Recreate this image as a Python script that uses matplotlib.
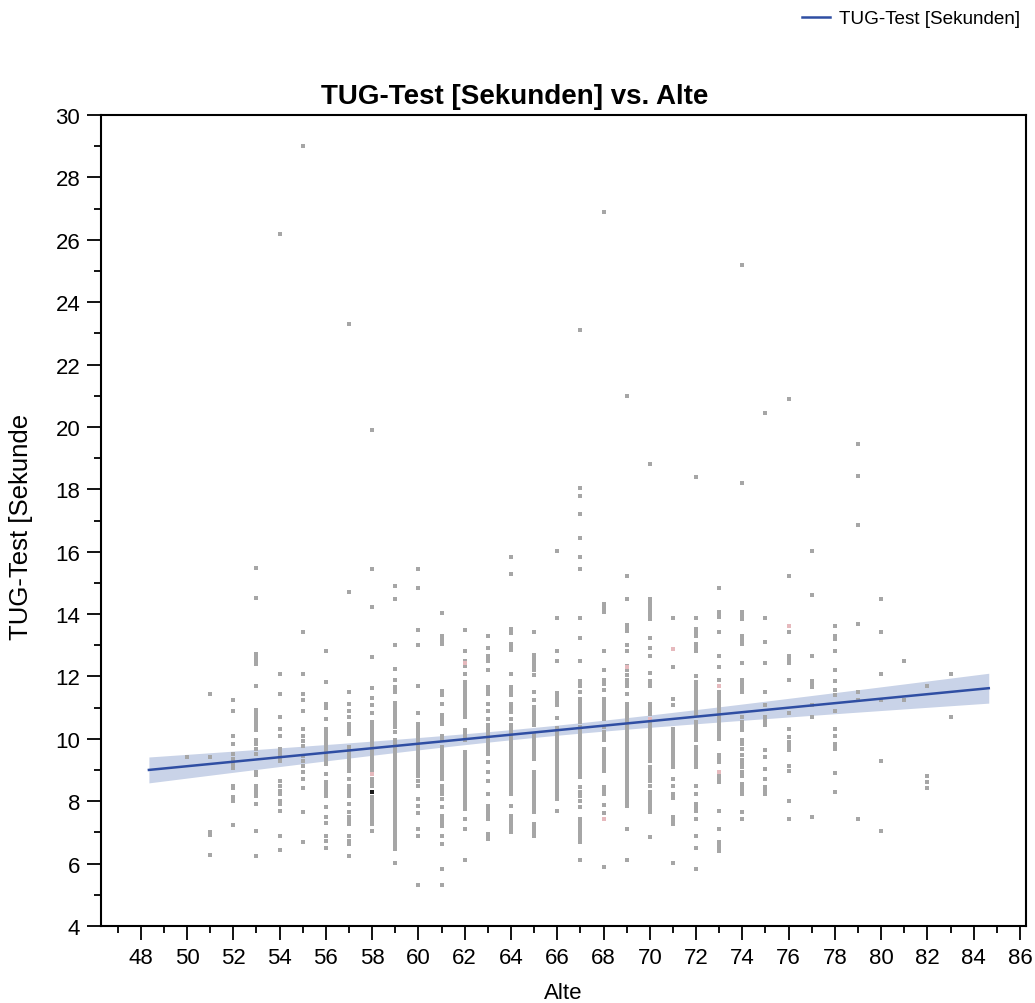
import numpy as np
import matplotlib
matplotlib.use("Agg")
import matplotlib.pyplot as plt
from matplotlib.ticker import MultipleLocator

plt.rcParams['font.family'] = ['Liberation Sans', 'DejaVu Sans']

# TUG-Test values (seconds) per age column
age50 = [9.43]
age51 = [11.43, 9.43, 7.0, 6.92, 6.29]
age52 = [11.23, 10.9, 10.1, 9.83, 9.5, 9.34, 9.2, 9.05, 8.5, 8.42, 8.13, 8.02, 7.23]
age53 = [15.49, 14.5, 12.71, 12.63, 12.5, 12.41, 11.7, 10.93, 10.85, 10.77, 10.68, 10.6, 10.52,
         10.44, 10.35, 10.27, 9.95, 9.82, 9.68, 9.5, 8.93, 8.85, 8.5, 8.42, 8.29, 8.18, 7.9, 7.04, 6.23]
age54 = [26.2, 12.09, 11.43, 10.69, 10.3, 10.1, 9.68, 9.6, 9.5, 9.4, 9.3, 8.64, 8.5, 8.34, 8.22,
         8.02, 7.9, 7.69, 6.9, 6.43]
age55 = [29.0, 13.43, 12.09, 11.43, 11.23, 10.9, 10.3, 10.1, 9.92, 9.78, 9.44, 9.3, 9.14, 8.93,
         8.7, 8.43, 7.67, 6.69]
age56 = [12.83, 11.83, 11.11, 10.98, 10.64, 10.32, 10.22, 10.12, 10.03, 9.94, 9.85, 9.76, 9.66,
         9.57, 9.48, 9.38, 9.29, 9.2, 8.88, 8.61, 8.5, 8.39, 8.29, 8.18, 7.81, 7.51, 7.31, 6.9,
         6.73, 6.5]
age57 = [23.3, 14.7, 11.5, 11.11, 10.9, 10.69, 10.48, 10.37, 10.27, 10.16, 9.73, 9.63, 9.52,
         9.42, 9.3, 9.2, 9.09, 8.98, 8.72, 8.5, 8.4, 8.29, 8.18, 7.9, 7.65, 7.51, 7.38, 7.27,
         6.9, 6.73, 6.63, 6.23]
age58 = [19.9, 15.43, 14.22, 12.63, 11.62, 11.3, 11.09, 10.83, 10.53, 10.45, 10.34, 10.26,
         10.15, 10.08, 9.98, 9.9, 9.82, 9.71, 9.63, 9.55, 9.44, 9.36, 9.28, 9.17, 9.1, 9.0,
         8.92, 8.72, 8.61, 8.5, 8.13, 8.04, 7.92, 7.83, 7.73, 7.6, 7.49, 7.37, 7.27, 7.04]
age59 = [14.89, 14.49, 13.02, 12.23, 11.89, 11.65, 11.57, 11.49, 11.14, 11.03, 10.95, 10.84,
         10.72, 10.6, 10.5, 10.38, 10.21, 9.95, 9.86, 9.77, 9.68, 9.6, 9.5, 9.41, 9.33, 9.22,
         9.14, 9.05, 8.95, 8.86, 8.78, 8.66, 8.58, 8.49, 8.4, 8.3, 8.21, 8.12, 8.03, 7.94, 7.84,
         7.75, 7.66, 7.57, 7.47, 7.38, 7.29, 7.2, 7.1, 7.01, 6.92, 6.84, 6.74, 6.65, 6.56, 6.47,
         6.03]
age60 = [15.43, 14.83, 13.49, 13.02, 11.7, 10.83, 10.48, 10.39, 10.3, 10.2, 10.11, 10.02, 9.93,
         9.84, 9.75, 9.65, 9.56, 9.47, 9.38, 9.29, 9.19, 9.1, 9.01, 8.92, 8.82, 8.66, 8.5, 8.07,
         7.84, 7.63, 7.11, 6.9, 5.3]
age61 = [14.03, 13.31, 13.22, 13.13, 13.04, 11.54, 11.46, 11.39, 11.11, 10.75, 10.66, 10.57,
         10.48, 10.1, 10.0, 9.73, 9.62, 9.51, 9.4, 9.3, 9.2, 9.09, 8.98, 8.88, 8.8, 8.72, 8.5,
         8.42, 8.33, 8.24, 8.07, 7.81, 7.54, 7.43, 7.32, 7.22, 6.9, 6.63, 5.83, 5.3]
age62 = [13.49, 12.83, 12.51, 12.35, 12.08, 11.81, 11.72, 11.63, 11.54, 11.45, 11.35, 11.26,
         11.17, 11.08, 10.98, 10.88, 10.78, 10.69, 10.27, 10.16, 10.05, 9.95, 9.57, 9.48, 9.39,
         9.3, 9.21, 9.12, 9.03, 8.94, 8.85, 8.76, 8.67, 8.58, 8.49, 8.4, 8.31, 8.22, 8.13, 8.04,
         7.94, 7.85, 7.76, 7.43, 7.11, 6.1]
age63 = [13.29, 12.9, 12.67, 12.58, 12.48, 12.22, 11.65, 11.55, 11.44, 11.11, 10.9, 10.64,
         10.43, 10.33, 10.23, 10.13, 10.03, 9.93, 9.83, 9.73, 9.63, 9.52, 9.25, 8.93, 8.66, 8.24,
         7.86, 7.75, 7.64, 7.54, 7.43, 6.95, 6.87, 6.79]
age64 = [15.82, 15.29, 13.52, 13.46, 13.4, 13.04, 12.95, 12.86, 12.09, 11.65, 11.56, 11.47,
         11.39, 11.12, 11.03, 10.94, 10.85, 10.64, 10.43, 10.34, 10.25, 10.16, 10.07, 9.98, 9.89,
         9.8, 9.71, 9.62, 9.53, 9.44, 9.35, 9.26, 9.17, 9.08, 8.99, 8.9, 8.8, 8.7, 8.6, 8.5,
         8.42, 8.33, 8.24, 7.86, 7.54, 7.44, 7.34, 7.22, 7.11, 7.01]
age65 = [13.42, 12.69, 12.6, 12.5, 12.4, 12.3, 12.2, 12.05, 11.49, 11.23, 11.01, 10.9, 10.79,
         10.67, 10.55, 10.43, 10.13, 10.02, 9.91, 9.8, 9.68, 9.58, 9.47, 9.36, 8.93, 8.82, 8.71,
         8.6, 8.49, 8.38, 8.27, 8.16, 8.05, 7.94, 7.83, 7.72, 7.65, 7.27, 7.15, 7.02, 6.9]
age66 = [16.02, 13.89, 12.83, 12.48, 11.47, 11.37, 11.27, 11.17, 11.07, 10.66, 10.34, 10.25,
         10.16, 10.07, 9.98, 9.89, 9.8, 9.71, 9.62, 9.53, 9.44, 9.35, 9.26, 9.17, 9.08, 8.99,
         8.9, 8.81, 8.72, 8.63, 8.54, 8.45, 8.36, 8.27, 8.17, 8.08, 7.7]
age67 = [23.1, 18.05, 17.8, 17.2, 16.43, 15.82, 15.43, 13.89, 13.23, 12.48, 11.87, 11.79,
         11.71, 11.49, 11.28, 11.18, 11.08, 10.98, 10.88, 10.78, 10.68, 10.58, 10.53, 10.37,
         10.27, 10.17, 10.07, 9.97, 9.87, 9.77, 9.67, 9.57, 9.47, 9.37, 9.27, 9.17, 9.07, 8.97,
         8.87, 8.77, 8.45, 8.3, 8.16, 8.02, 7.81, 7.43, 7.32, 7.2, 7.08, 6.95, 6.82, 6.69, 6.1]
age68 = [26.9, 14.32, 14.23, 14.14, 14.06, 12.83, 12.22, 11.9, 11.83, 11.76, 11.55, 11.28,
         11.18, 11.07, 10.96, 10.85, 10.75, 10.64, 10.37, 10.23, 10.09, 9.95, 9.68, 9.55, 9.42,
         9.29, 9.16, 9.03, 8.98, 8.45, 8.35, 8.24, 7.89, 7.63, 5.88]
age69 = [21.0, 15.23, 14.49, 13.65, 13.56, 13.47, 13.02, 12.83, 12.35, 12.2, 12.05, 11.9, 11.8,
         11.71, 11.44, 11.12, 11.02, 10.92, 10.82, 10.72, 10.62, 10.52, 10.42, 10.32, 10.22,
         10.12, 10.02, 9.92, 9.82, 9.72, 9.62, 9.52, 9.42, 9.32, 9.22, 9.12, 9.02, 8.92, 8.82,
         8.72, 8.62, 8.52, 8.42, 8.32, 8.22, 8.12, 8.02, 7.94, 7.86, 7.11, 6.1]
age70 = [18.8, 14.47, 14.38, 14.28, 14.18, 14.08, 13.96, 13.84, 13.23, 12.9, 12.65, 12.11,
         11.87, 11.79, 11.71, 11.12, 11.01, 10.9, 10.8, 10.53, 10.43, 10.33, 10.23, 10.13, 10.03,
         9.93, 9.83, 9.73, 9.63, 9.53, 9.43, 9.3, 9.09, 8.98, 8.87, 8.76, 8.65, 8.5, 8.29, 8.18,
         8.08, 7.97, 7.86, 7.76, 7.65, 6.85]
age71 = [13.89, 12.3, 11.28, 11.07, 10.32, 10.2, 10.08, 9.96, 9.84, 9.71, 9.58, 9.46, 9.33,
         9.21, 9.09, 8.72, 8.5, 8.24, 8.1, 7.49, 7.38, 7.27, 6.02]
age72 = [18.4, 13.89, 13.52, 13.42, 13.31, 13.04, 12.94, 12.83, 12.0, 11.81, 11.72, 11.62,
         11.52, 11.42, 11.32, 11.22, 11.12, 11.02, 10.92, 10.82, 10.75, 10.53, 10.42, 10.3,
         10.18, 10.06, 9.95, 9.73, 9.62, 9.51, 9.4, 9.3, 9.2, 9.09, 8.5, 8.24, 7.92, 7.81, 7.7,
         7.43, 6.9, 6.5, 5.83]
age73 = [14.83, 14.06, 13.98, 13.9, 13.42, 12.64, 12.3, 11.9, 11.49, 11.4, 11.31, 11.22, 11.13,
         11.04, 10.95, 10.86, 10.77, 10.68, 10.59, 10.5, 10.41, 10.32, 10.23, 10.14, 10.05, 10.0,
         9.47, 9.36, 9.25, 8.88, 8.79, 8.7, 8.61, 7.7, 7.11, 6.69, 6.6, 6.51, 6.42]
age74 = [25.2, 18.2, 14.06, 13.95, 13.84, 13.31, 13.22, 13.13, 13.04, 12.43, 11.9, 11.76, 11.62,
         11.49, 10.69, 10.55, 10.41, 10.27, 9.95, 9.82, 9.68, 9.47, 9.33, 9.2, 9.09, 8.95, 8.82,
         8.56, 8.45, 8.34, 8.24, 7.65, 7.43]
age75 = [20.45, 13.89, 13.1, 12.43, 11.49, 11.1, 10.69, 10.56, 10.43, 9.63, 9.43, 9.04, 8.7,
         8.45, 8.33, 8.22]
age76 = [20.9, 15.23, 13.44, 12.65, 12.54, 12.43, 11.9, 10.82, 10.3, 10.05, 9.91, 9.77, 9.63,
         9.14, 8.98, 8.02, 7.43]
age77 = [16.02, 14.62, 12.64, 11.87, 11.76, 11.65, 11.1, 10.69, 7.49]
age78 = [13.63, 13.31, 13.2, 12.83, 12.22, 11.84, 11.55, 11.39, 10.9, 10.3, 10.1, 9.84, 9.76,
         9.68, 8.9, 8.29]
age79 = [19.45, 18.43, 16.84, 13.68, 11.49, 11.23, 7.43]
age80 = [14.49, 13.44, 12.09, 11.23, 9.3, 7.03]
age81 = [12.49, 11.25]
age82 = [11.71, 8.82, 8.63, 8.44]
age83 = [12.09, 10.69]

# a few points drawn in a pale red, and one dark point
pink_age = [58, 62, 68, 69, 70, 71, 73, 73, 76]
pink_tug = [8.87, 12.43, 7.43, 12.3, 10.64, 12.88, 11.71, 8.94, 13.63]
dark_age = [58]
dark_tug = [8.29]

columns = {50: age50, 51: age51, 52: age52, 53: age53, 54: age54, 55: age55, 56: age56,
           57: age57, 58: age58, 59: age59, 60: age60, 61: age61, 62: age62, 63: age63,
           64: age64, 65: age65, 66: age66, 67: age67, 68: age68, 69: age69, 70: age70,
           71: age71, 72: age72, 73: age73, 74: age74, 75: age75, 76: age76, 77: age77,
           78: age78, 79: age79, 80: age80, 81: age81, 82: age82, 83: age83}

gray_x = []
gray_y = []
for a, vals in columns.items():
    gray_x += [a] * len(vals)
    gray_y += vals

alter = np.array(gray_x + pink_age + dark_age, dtype=float)
tug = np.array(gray_y + pink_tug + dark_tug, dtype=float)

# linear fit + 95% confidence band
n = len(alter)
slope, icept = np.polyfit(alter, tug, 1)
resid = tug - (icept + slope * alter)
s = np.sqrt(np.sum(resid ** 2) / (n - 2))
xm = alter.mean()
sxx = np.sum((alter - xm) ** 2)
span = alter.max() - alter.min()
xs = np.linspace(alter.min() - 0.05 * span, alter.max() + 0.05 * span, 200)
ys = icept + slope * xs
se = s * np.sqrt(1.0 / n + (xs - xm) ** 2 / sxx)

fig = plt.figure(figsize=(10.35, 10.04), dpi=100)
ax = fig.add_axes([101 / 1035, 1 - 927 / 1004, 925 / 1035, 811 / 1004])

ax.fill_between(xs, ys - 1.96 * se, ys + 1.96 * se, color='#c9d3e8', lw=0, zorder=1)
ax.scatter(gray_x, gray_y, marker='s', s=9, color='#a6a6a6', lw=0, zorder=2)
ax.scatter(pink_age, pink_tug, marker='s', s=9, color='#e6b9bd', lw=0, zorder=2)
ax.scatter(dark_age, dark_tug, marker='s', s=9, color='#1a1a1a', lw=0, zorder=2)
line, = ax.plot(xs, ys, color='#2f4ea3', lw=1.8, zorder=3)

ax.set_xlim(46.28, 86.26)
ax.set_ylim(4, 30)
ax.xaxis.set_major_locator(MultipleLocator(2))
ax.xaxis.set_minor_locator(MultipleLocator(1))
ax.yaxis.set_major_locator(MultipleLocator(2))
ax.yaxis.set_minor_locator(MultipleLocator(1))
ax.tick_params(which='major', direction='out', length=10, width=1.3, labelsize=16, pad=5)
ax.tick_params(which='minor', direction='out', length=5, width=1.3)
for sp in ax.spines.values():
    sp.set_linewidth(1.5)

fig.text(0.497, 1 - 97 / 1004, 'TUG-Test [Sekunden] vs. Alte', fontsize=20,
         fontweight='bold', ha='center', va='center')
ax.set_xlabel('Alte', fontsize=16, labelpad=10)
fig.text(21 / 1035, 1 - 527 / 1004, 'TUG-Test [Sekunde', rotation=90, fontsize=18.5,
         ha='center', va='center')

fig.legend([line], ['TUG-Test [Sekunden]'], loc='upper right', bbox_to_anchor=(1.002, 1.006),
           frameon=False, fontsize=13.6, handlelength=1.5, handletextpad=0.45)

fig.savefig('out.png', dpi=100)
